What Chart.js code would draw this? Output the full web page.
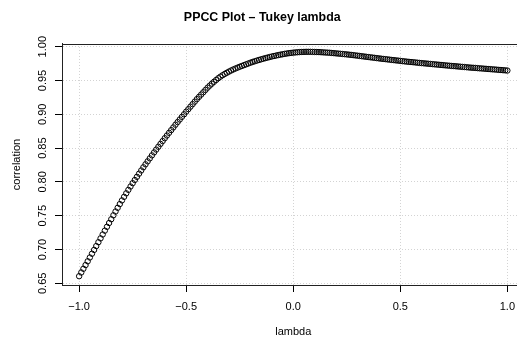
<!DOCTYPE html>
<html>
<head>
<meta charset="utf-8">
<script src="https://cdn.jsdelivr.net/npm/chart.js@4.4.1/dist/chart.umd.min.js"></script>
<style>
  html, body { margin: 0; padding: 0; background: #fff; }
  #wrap { width: 517px; height: 340px; overflow: hidden; }
  canvas { display: block; }
</style>
</head>
<body>
<div id="wrap"><canvas id="ppcc" width="586" height="340"></canvas></div>
<script>
// lambda values (x) and PPCC correlation
const lambdas = [
  -1.00, -0.99, -0.98, -0.97, -0.96, -0.95, -0.94, -0.93, -0.92, -0.91,
  -0.90, -0.89, -0.88, -0.87, -0.86, -0.85, -0.84, -0.83, -0.82, -0.81,
  -0.80, -0.79, -0.78, -0.77, -0.76, -0.75, -0.74, -0.73, -0.72, -0.71,
  -0.70, -0.69, -0.68, -0.67, -0.66, -0.65, -0.64, -0.63, -0.62, -0.61,
  -0.60, -0.59, -0.58, -0.57, -0.56, -0.55, -0.54, -0.53, -0.52, -0.51,
  -0.50, -0.49, -0.48, -0.47, -0.46, -0.45, -0.44, -0.43, -0.42, -0.41,
  -0.40, -0.39, -0.38, -0.37, -0.36, -0.35, -0.34, -0.33, -0.32, -0.31,
  -0.30, -0.29, -0.28, -0.27, -0.26, -0.25, -0.24, -0.23, -0.22, -0.21,
  -0.20, -0.19, -0.18, -0.17, -0.16, -0.15, -0.14, -0.13, -0.12, -0.11,
  -0.10, -0.09, -0.08, -0.07, -0.06, -0.05, -0.04, -0.03, -0.02, -0.01,
  0.00, 0.01, 0.02, 0.03, 0.04, 0.05, 0.06, 0.07, 0.08, 0.09,
  0.10, 0.11, 0.12, 0.13, 0.14, 0.15, 0.16, 0.17, 0.18, 0.19,
  0.20, 0.21, 0.22, 0.23, 0.24, 0.25, 0.26, 0.27, 0.28, 0.29,
  0.30, 0.31, 0.32, 0.33, 0.34, 0.35, 0.36, 0.37, 0.38, 0.39,
  0.40, 0.41, 0.42, 0.43, 0.44, 0.45, 0.46, 0.47, 0.48, 0.49,
  0.50, 0.51, 0.52, 0.53, 0.54, 0.55, 0.56, 0.57, 0.58, 0.59,
  0.60, 0.61, 0.62, 0.63, 0.64, 0.65, 0.66, 0.67, 0.68, 0.69,
  0.70, 0.71, 0.72, 0.73, 0.74, 0.75, 0.76, 0.77, 0.78, 0.79,
  0.80, 0.81, 0.82, 0.83, 0.84, 0.85, 0.86, 0.87, 0.88, 0.89,
  0.90, 0.91, 0.92, 0.93, 0.94, 0.95, 0.96, 0.97, 0.98, 0.99,
  1.00
];

const correlation = [
  0.6605, 0.6660, 0.6715, 0.6770, 0.6826, 0.6882, 0.6938, 0.6994, 0.7051, 0.7108,
  0.7165, 0.7222, 0.7279, 0.7336, 0.7392, 0.7448, 0.7506, 0.7562, 0.7617, 0.7672,
  0.7726, 0.7779, 0.7831, 0.7882, 0.7932, 0.7981, 0.8028, 0.8075, 0.8122, 0.8169,
  0.8216, 0.8260, 0.8304, 0.8348, 0.8392, 0.8436, 0.8478, 0.8520, 0.8562, 0.8604,
  0.8646, 0.8686, 0.8726, 0.8766, 0.8806, 0.8846, 0.8885, 0.8923, 0.8962, 0.9000,
  0.9039, 0.9076, 0.9113, 0.9150, 0.9187, 0.9224, 0.9258, 0.9292, 0.9326, 0.9360,
  0.9394, 0.9424, 0.9453, 0.9481, 0.9508, 0.9534, 0.9557, 0.9578, 0.9597, 0.9615,
  0.9632, 0.9648, 0.9663, 0.9677, 0.9690, 0.9703, 0.9715, 0.9727, 0.9739, 0.9751,
  0.9763, 0.9774, 0.9784, 0.9794, 0.9804, 0.9813, 0.9822, 0.9831, 0.9839, 0.9847,
  0.9855, 0.9862, 0.9869, 0.9876, 0.9882, 0.9888, 0.9894, 0.9899, 0.9904, 0.9908,
  0.9912, 0.9915, 0.9918, 0.9920, 0.9922, 0.9923, 0.9924, 0.9924, 0.9924, 0.9923,
  0.9922, 0.9921, 0.9920, 0.9918, 0.9916, 0.9914, 0.9912, 0.9910, 0.9907, 0.9904,
  0.9901, 0.9898, 0.9895, 0.9892, 0.9889, 0.9886, 0.9882, 0.9879, 0.9875, 0.9871,
  0.9867, 0.9863, 0.9859, 0.9855, 0.9851, 0.9847, 0.9843, 0.9839, 0.9835, 0.9831,
  0.9827, 0.9823, 0.9819, 0.9816, 0.9812, 0.9808, 0.9804, 0.9801, 0.9797, 0.9794,
  0.9790, 0.9786, 0.9783, 0.9779, 0.9776, 0.9773, 0.9770, 0.9767, 0.9763, 0.9760,
  0.9757, 0.9754, 0.9751, 0.9748, 0.9745, 0.9742, 0.9739, 0.9736, 0.9733, 0.9730,
  0.9727, 0.9724, 0.9721, 0.9718, 0.9715, 0.9713, 0.9710, 0.9707, 0.9704, 0.9701,
  0.9699, 0.9696, 0.9693, 0.9690, 0.9688, 0.9686, 0.9683, 0.9680, 0.9678, 0.9675,
  0.9673, 0.9670, 0.9668, 0.9665, 0.9663, 0.9660, 0.9657, 0.9655, 0.9652, 0.9650,
  0.9647
];

const xTicks = [-1.0, -0.5, 0.0, 0.5, 1.0];
const yTicks = [0.65, 0.70, 0.75, 0.80, 0.85, 0.90, 0.95, 1.00];

const FONT = 'Liberation Sans, Arial, Helvetica, sans-serif';

// draws the R-style box around the plot region
const boxPlugin = {
  id: 'box',
  afterDraw(chart) {
    const { ctx, chartArea: a } = chart;
    ctx.save();
    ctx.strokeStyle = '#222';
    ctx.lineWidth = 1;
    ctx.strokeRect(Math.round(a.left) + 0.5, Math.round(a.top) + 0.5,
      Math.round(a.right - a.left), Math.round(a.bottom - a.top));
    ctx.restore();
  }
};

const points = lambdas.map((x, i) => ({ x: x, y: correlation[i] }));

new Chart(document.getElementById('ppcc'), {
  type: 'scatter',
  data: {
    datasets: [{
      data: points,
      pointStyle: 'circle',
      pointRadius: 2.7,
      pointBorderWidth: 1,
      borderColor: '#000',
      backgroundColor: 'rgba(0,0,0,0)',
      showLine: false
    }]
  },
  options: {
    responsive: false,
    animation: false,
    layout: { padding: { left: 0, right: 61.5, top: 0, bottom: 0 } },
    plugins: {
      legend: { display: false },
      tooltip: { enabled: false },
      title: {
        display: true,
        text: 'PPCC Plot \u2013 Tukey lambda',
        color: '#000',
        font: { family: FONT, size: 12.4, weight: 'bold' },
        padding: { top: 10, bottom: 19.1 }
      }
    },
    scales: {
      x: {
        type: 'linear',
        min: -1.08,
        max: 1.08,
        afterBuildTicks: axis => { axis.ticks = xTicks.map(v => ({ value: v })); },
        afterFit: axis => { axis.height = 55; axis.paddingLeft = 0; axis.paddingRight = 0; },
        ticks: {
          autoSkip: false,
          maxRotation: 0,
          padding: 8,
          color: '#000',
          font: { family: FONT, size: 11 },
          callback: v => v.toFixed(1).replace('-', '\u2212')
        },
        grid: {
          color: '#d3d3d3',
          lineWidth: 1,
          tickColor: '#000',
          tickLength: 7,
          tickWidth: 1
        },
        border: { display: true, color: '#222', width: 1, dash: [1, 2] },
        title: {
          display: true,
          text: 'lambda',
          color: '#000',
          font: { family: FONT, size: 11 },
          padding: { top: 0, bottom: 1.4 }
        }
      },
      y: {
        type: 'linear',
        min: 0.6475,
        max: 1.004,
        afterBuildTicks: axis => { axis.ticks = yTicks.map(v => ({ value: v })); },
        afterFit: axis => { axis.width = 62; axis.paddingTop = 0; axis.paddingBottom = 0; },
        ticks: {
          autoSkip: false,
          minRotation: 90,
          maxRotation: 90,
          crossAlign: 'center',
          padding: 1.8,
          color: '#000',
          font: { family: FONT, size: 11 },
          callback: v => v.toFixed(2)
        },
        grid: {
          color: '#d3d3d3',
          lineWidth: 1,
          tickColor: '#000',
          tickLength: 7,
          tickWidth: 1
        },
        border: { display: true, color: '#222', width: 1, dash: [1, 2] },
        title: {
          display: true,
          text: 'correlation',
          color: '#000',
          font: { family: FONT, size: 11 },
          padding: { top: 10, bottom: 0 }
        }
      }
    }
  },
  plugins: [boxPlugin]
});
</script>
</body>
</html>
